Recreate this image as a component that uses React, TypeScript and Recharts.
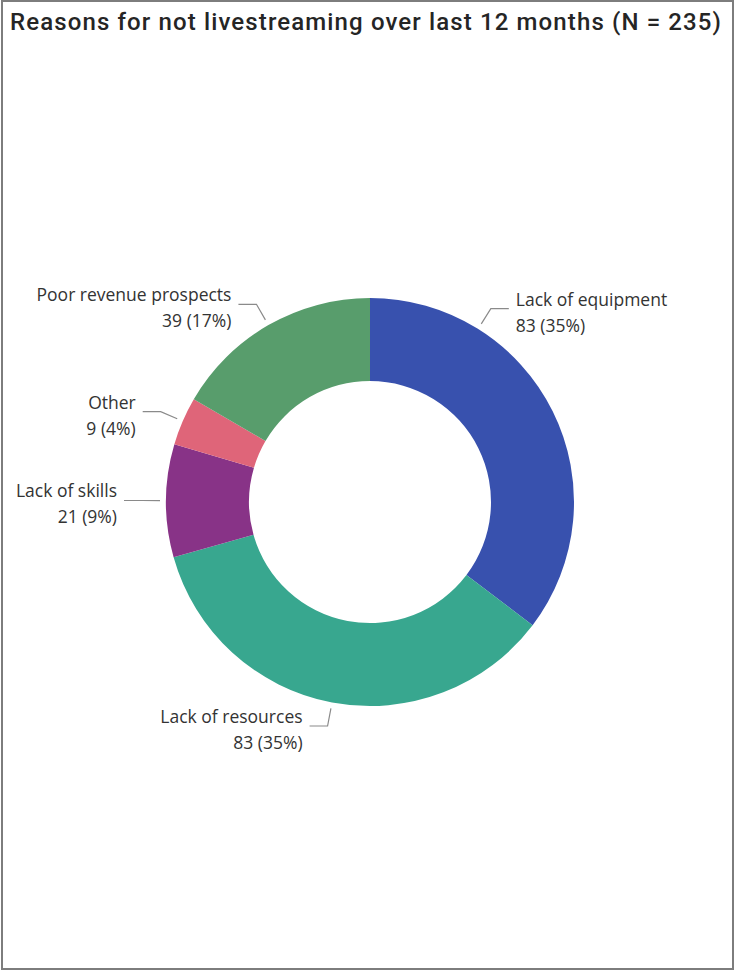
import React from 'react';
import { PieChart, Pie, Cell } from 'recharts';

const categories = ['Lack of equipment', 'Lack of resources', 'Lack of skills', 'Other', 'Poor revenue prospects'];
const counts = [83, 83, 21, 9, 39];
const colors = ['#3851AE', '#38A78F', '#883387', '#DF6579', '#589D6C'];
const titleText = 'Reasons for not livestreaming over last 12 months (N = 235)';

const total = counts.reduce((a, b) => a + b, 0);
const data = categories.map((name, i) => ({ name, value: counts[i] }));

// label anchor angle overrides (degrees, recharts convention) for collision avoidance
const angleOverride: Record<string, number> = { 'Lack of equipment': 58 };

const RAD = Math.PI / 180;
const FONT = '"Open Sans", "Noto Sans", sans-serif';

const renderLabel = (props: any) => {
  const { cx, cy, midAngle, outerRadius, name, value } = props;
  const ang = angleOverride[name] !== undefined ? angleOverride[name] : midAngle;
  const cos = Math.cos(-ang * RAD);
  const sin = Math.sin(-ang * RAD);
  const sx = cx + (outerRadius + 6) * cos;
  const sy = cy + (outerRadius + 6) * sin;
  const ex = cx + (outerRadius + 24) * cos;
  const ey = cy + (outerRadius + 24) * sin;
  const right = cos >= 0;
  const hx = ex + (right ? 18 : -18);
  const tx = hx + (right ? 7 : -7);
  const pct = Math.round((value / total) * 100);
  return (
    <g>
      <polyline points={`${sx},${sy} ${ex},${ey} ${hx},${ey}`} fill="none" stroke="#8a8a8a" strokeWidth={1.2} />
      <text x={tx} y={ey - 10} textAnchor={right ? 'start' : 'end'} dominantBaseline="central" fill="#333" fontSize={17.5} fontFamily={FONT}>
        {name}
      </text>
      <text x={tx} y={ey + 16} textAnchor={right ? 'start' : 'end'} dominantBaseline="central" fill="#333" fontSize={17.5} fontFamily={FONT}>
        {`${value} (${pct}%)`}
      </text>
    </g>
  );
};

export default function App() {
  return (
    <div style={{ position: 'absolute', left: 0, top: 0, width: 735, height: 970, background: '#fff' }}>
      <div style={{ position: 'absolute', left: 1, top: 0, width: 733, height: 970, border: '2px solid #7d7d7d', boxSizing: 'border-box' }} />
      <PieChart width={735} height={970} margin={{ top: 0, right: 0, bottom: 0, left: 0 }} style={{ position: 'absolute', left: 0, top: 0 }}>
        <text x={10} y={30} fontSize={24} fontWeight={500} fontFamily="Roboto, sans-serif" fill="#252525" textLength={711} lengthAdjust="spacing">
          {titleText}
        </text>
        <Pie
          data={data}
          dataKey="value"
          nameKey="name"
          cx={370}
          cy={502}
          innerRadius={121}
          outerRadius={204}
          startAngle={90}
          endAngle={-270}
          stroke="none"
          label={renderLabel}
          labelLine={false}
          isAnimationActive={false}
        >
          {data.map((d, i) => (
            <Cell key={d.name} fill={colors[i]} />
          ))}
        </Pie>
      </PieChart>
    </div>
  );
}
